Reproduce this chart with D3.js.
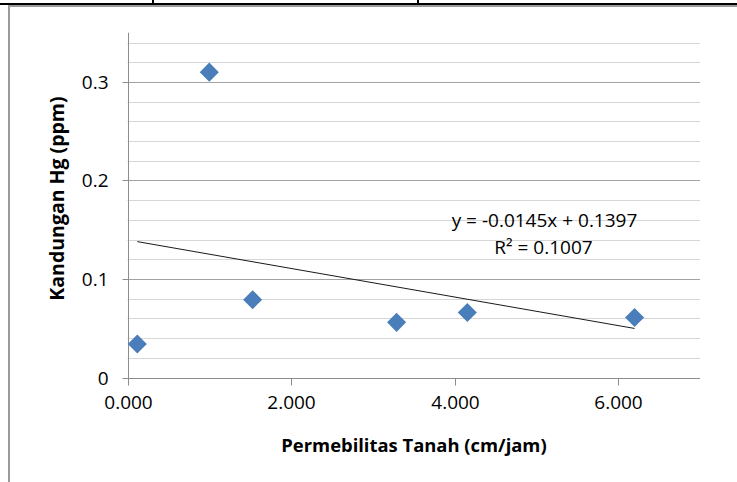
<!DOCTYPE html>
<html>
<head>
<meta charset="utf-8">
<script src="https://cdn.jsdelivr.net/npm/d3@7/dist/d3.min.js"></script>
<style>
  html, body { margin: 0; padding: 0; background: #fff; }
  svg { display: block; }
  text { font-family: "Open Sans", "Noto Sans", sans-serif; fill: #000; }
</style>
</head>
<body>
<script>
// ---- data ----
const permeability = [0.12, 1.00, 1.53, 3.29, 4.155, 6.20];
const mercury      = [0.034, 0.310, 0.079, 0.056, 0.066, 0.061];
const xTicks = [0, 2, 4, 6];
const xTickLabels = ["0.000", "2.000", "4.000", "6.000"];
const yTicks = [0, 0.1, 0.2, 0.3];
const yTickLabels = ["0", "0.1", "0.2", "0.3"];
const trendSlope = -0.0145;
const trendIntercept = 0.1397;
const equationLabel = "y = -0.0145x + 0.1397";
const r2Label = "R² = 0.1007";
const xTitle = "Permebilitas Tanah (cm/jam)";
const yTitle = "Kandungan Hg (ppm)";

const W = 737, H = 482;
const svg = d3.select("body").append("svg").attr("width", W).attr("height", H);

// page decorations (table borders above the chart)
svg.append("rect").attr("x", 0).attr("y", 3).attr("width", W).attr("height", 2).attr("fill", "#000");
svg.append("rect").attr("x", 152).attr("y", 0).attr("width", 2).attr("height", 4).attr("fill", "#000");
svg.append("rect").attr("x", 417).attr("y", 0).attr("width", 2).attr("height", 4).attr("fill", "#000");
// chart frame (grey)
svg.append("rect").attr("x", 8).attr("y", 5).attr("width", W - 8).attr("height", 2).attr("fill", "#9a9a9a");
svg.append("rect").attr("x", 8).attr("y", 5).attr("width", 2).attr("height", H - 5).attr("fill", "#9a9a9a");

const x = d3.scaleLinear().domain([0, 7]).range([127.5, 700]);
const y = d3.scaleLinear().domain([0, 0.35]).range([377.5, 32.75]);
const px = v => Math.round(v) + 0.5;

// minor gridlines every 0.02
const minor = d3.range(1, 18).filter(i => i % 5 !== 0).map(i => i * 0.02);
svg.append("g").selectAll("line").data(minor).join("line")
  .attr("x1", x(0)).attr("x2", x(7))
  .attr("y1", d => px(y(d))).attr("y2", d => px(y(d)))
  .attr("stroke", "#d6d6d6").attr("stroke-width", 1);

// major gridlines
svg.append("g").selectAll("line").data(yTicks.slice(1)).join("line")
  .attr("x1", x(0)).attr("x2", x(7))
  .attr("y1", d => px(y(d))).attr("y2", d => px(y(d)))
  .attr("stroke", "#a3a3a3").attr("stroke-width", 1);

// y axis
const yAxis = d3.axisLeft(y).tickValues(yTicks).tickSize(6)
  .tickFormat((d, i) => yTickLabels[i]).tickPadding(14);
const gy = svg.append("g").attr("transform", `translate(${px(x(0))},0)`).call(yAxis);
gy.select(".domain").attr("d", `M0,${y(0.35)}V${px(y(0))}`).attr("stroke", "#8c8c8c");
gy.selectAll(".tick line").attr("stroke", "#8c8c8c");
gy.selectAll(".tick").attr("transform", d => `translate(0,${px(y(d))})`);
gy.selectAll(".tick text").style("font-size", "19px").attr("fill", "#111")
  .attr("font-family", null).attr("dy", "0.35em");

// x axis
const xAxis = d3.axisBottom(x).tickValues(xTicks).tickSize(7)
  .tickFormat((d, i) => xTickLabels[i]).tickPadding(10);
const gx = svg.append("g").attr("transform", `translate(0,${px(y(0))})`).call(xAxis);
gx.select(".domain").attr("d", `M${x(0)},0H${x(7)}`).attr("stroke", "#8c8c8c");
gx.selectAll(".tick line").attr("stroke", "#8c8c8c");
gx.selectAll(".tick").attr("transform", d => `translate(${px(x(d))},0)`);
gx.selectAll(".tick text").style("font-size", "19px").attr("fill", "#111")
  .attr("font-family", null).attr("dy", "0.71em");

// trendline
const xMin = d3.min(permeability), xMax = d3.max(permeability);
svg.append("line")
  .attr("x1", x(xMin)).attr("y1", y(trendIntercept + trendSlope * xMin))
  .attr("x2", x(xMax)).attr("y2", y(trendIntercept + trendSlope * xMax))
  .attr("stroke", "#1a1a1a").attr("stroke-width", 1);

// points (diamonds)
const pts = permeability.map((v, i) => [v, mercury[i]]);
const diamond = d3.symbol().type(d3.symbolSquare).size(182);
svg.append("g").selectAll("path").data(pts).join("path")
  .attr("d", diamond)
  .attr("transform", d => `translate(${x(d[0])},${y(d[1])}) rotate(45)`)
  .attr("fill", "#4a7ebb");

// equation labels
svg.append("text").attr("x", 544.5).attr("y", 227).attr("text-anchor", "middle")
  .style("font-size", "19px").attr("fill", "#111").text(equationLabel);
svg.append("text").attr("x", 543.5).attr("y", 254).attr("text-anchor", "middle")
  .style("font-size", "19px").attr("fill", "#111").text(r2Label);

// axis titles
svg.append("text").attr("x", 414).attr("y", 452).attr("text-anchor", "middle")
  .style("font-size", "18.4px").style("font-weight", "bold").text(xTitle);
svg.append("text").attr("transform", "translate(63.5,198.5) rotate(-90)")
  .attr("text-anchor", "middle")
  .style("font-size", "19.5px").style("font-weight", "bold").text(yTitle);
</script>
</body>
</html>
